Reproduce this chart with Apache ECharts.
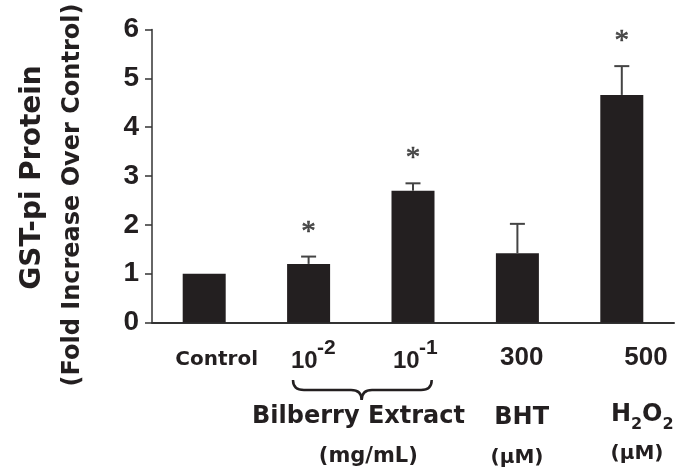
<!DOCTYPE html>
<html><head><meta charset="utf-8">
<script src="https://cdn.jsdelivr.net/npm/echarts@6/dist/echarts.min.js"></script>
<style>html,body{margin:0;padding:0;background:#fff}#c{width:688px;height:471px}</style>
</head><body><div id="c"></div>
<script>
// ---- data ----
const categories = ['Control', '10^-2', '10^-1', '300', '500'];
const foldIncrease = [1.0, 1.20, 2.70, 1.42, 4.66];
const errorUpper = [0, 0.15, 0.15, 0.60, 0.59];
const significant = [false, true, true, false, true];
const yTicks = [0, 1, 2, 3, 4, 5, 6];
const groupLabels = ['Bilberry Extract', 'BHT', 'H', 'O'];
const unitLabels = ['(mg/mL)', '(\u00b5M)', '(\u00b5M)'];
const yTitle = ['GST-pi Protein', '(Fold Increase Over Control)'];

const ink = '#231f20';
const W = 'bold ';
const DV = 'px "DejaVu Sans"';
const LS = 'px "Liberation Sans", Arial';

function txt(text, x, y, size, fam, align, valign, extra) {
  return Object.assign({
    type: 'text', x: x, y: y, silent: true,
    style: { text: text, x: 0, y: 0, font: W + size + fam, fill: ink,
      textAlign: align, textVerticalAlign: valign, align: align, verticalAlign: valign }
  }, extra || {});
}
const braceStyle = { stroke: ink, lineWidth: 2.5, fill: null };
function curve(x1, y1, cx, cy, x2, y2) {
  return { type: 'bezierCurve', silent: true, shape: { x1: x1, y1: y1, cpx1: cx, cpy1: cy, x2: x2, y2: y2 }, style: braceStyle };
}
function seg(x1, y1, x2, y2) {
  return { type: 'line', silent: true, shape: { x1: x1, y1: y1, x2: x2, y2: y2 }, style: braceStyle };
}

const chart = echarts.init(document.getElementById('c'), null, { renderer: 'canvas' });

const errData = categories.map((c, i) => [i, foldIncrease[i], errorUpper[i]]);
const starData = categories.map((c, i) => significant[i] ? [i, foldIncrease[i] + errorUpper[i]] : null).filter(Boolean);

chart.setOption({
  animation: false,
  backgroundColor: '#fff',
  grid: { left: 152, right: 14, top: 29.5, bottom: 148.5 },
  xAxis: {
    type: 'category', data: categories,
    axisLine: { lineStyle: { color: '#333', width: 2 } },
    axisTick: { show: false }, axisLabel: { show: false }, splitLine: { show: false }
  },
  yAxis: {
    type: 'value', min: 0, max: 6, interval: 1,
    axisLine: { show: true, lineStyle: { color: '#333', width: 1.5 } },
    axisTick: { show: true, length: 7, lineStyle: { color: '#333', width: 1.5 } },
    axisLabel: { margin: 13, color: ink, fontSize: 28, fontWeight: 'bold', fontFamily: '"Liberation Sans", Arial',
      formatter: v => yTicks.indexOf(v) >= 0 ? String(v) : '' },
    splitLine: { show: false }
  },
  series: [
    { type: 'bar', data: foldIncrease, barWidth: 43, itemStyle: { color: ink }, z: 2 },
    { type: 'custom', data: errData, z: 3,
      renderItem: function (params, api) {
        const x = api.value(0), v = api.value(1), e = api.value(2);
        if (!e) return null;
        const p0 = api.coord([x, v]);
        const p1 = api.coord([x, v + e]);
        const st = { stroke: '#444', lineWidth: 2 };
        return { type: 'group', children: [
          { type: 'line', shape: { x1: p0[0], y1: p0[1], x2: p1[0], y2: p1[1] }, style: st },
          { type: 'line', shape: { x1: p1[0] - 7.5, y1: p1[1], x2: p1[0] + 7.5, y2: p1[1] }, style: st }
        ] };
      } },
    { type: 'scatter', data: starData, symbolSize: 0, z: 4,
      label: { show: true, position: 'top', distance: 10, formatter: '*',
        fontFamily: '"Liberation Serif", "Times New Roman", serif', fontSize: 29, color: '#262626',
        textBorderColor: '#262626', textBorderWidth: 0.6 } }
  ],
  graphic: [
    txt(yTitle[0], 33, 177.5, 28, DV, 'center', 'middle', { rotation: Math.PI / 2 }),
    txt(yTitle[1], 73, 195, 24, DV, 'center', 'middle', { rotation: Math.PI / 2 }),
    txt(categories[0], 216.7, 360, 20, DV, 'center', 'middle'),
    txt('10', 291, 361, 24, LS, 'left', 'middle'),
    txt('-2', 317, 348, 21, LS, 'left', 'middle'),
    txt('10', 393, 361, 24, LS, 'left', 'middle'),
    txt('-1', 419, 348, 21, LS, 'left', 'middle'),
    txt(categories[3], 521.7, 358, 26, LS, 'center', 'middle'),
    txt(categories[4], 646, 358, 26, LS, 'center', 'middle'),
    curve(293, 380, 293, 390, 304, 390),
    seg(304, 390, 351, 390),
    curve(351, 390, 361.7, 390, 361.7, 400),
    curve(361.7, 400, 361.7, 390, 372, 390),
    seg(372, 390, 421, 390),
    curve(421, 390, 431.7, 390, 431.7, 380),
    txt(groupLabels[0], 358.5, 417, 24, DV, 'center', 'middle'),
    txt(groupLabels[1], 521.7, 417.5, 24, DV, 'center', 'middle'),
    txt(groupLabels[2], 611, 415, 24, DV, 'left', 'middle'),
    txt('2', 631, 425, 16, DV, 'left', 'middle'),
    txt(groupLabels[3], 642, 415, 24, DV, 'left', 'middle'),
    txt('2', 662.5, 425, 16, DV, 'left', 'middle'),
    txt(unitLabels[0], 368.3, 457, 21, DV, 'center', 'middle'),
    txt(unitLabels[1], 517, 458, 20, DV, 'center', 'middle'),
    txt(unitLabels[2], 637, 454, 20, DV, 'center', 'middle')
  ]
});
</script></body></html>
